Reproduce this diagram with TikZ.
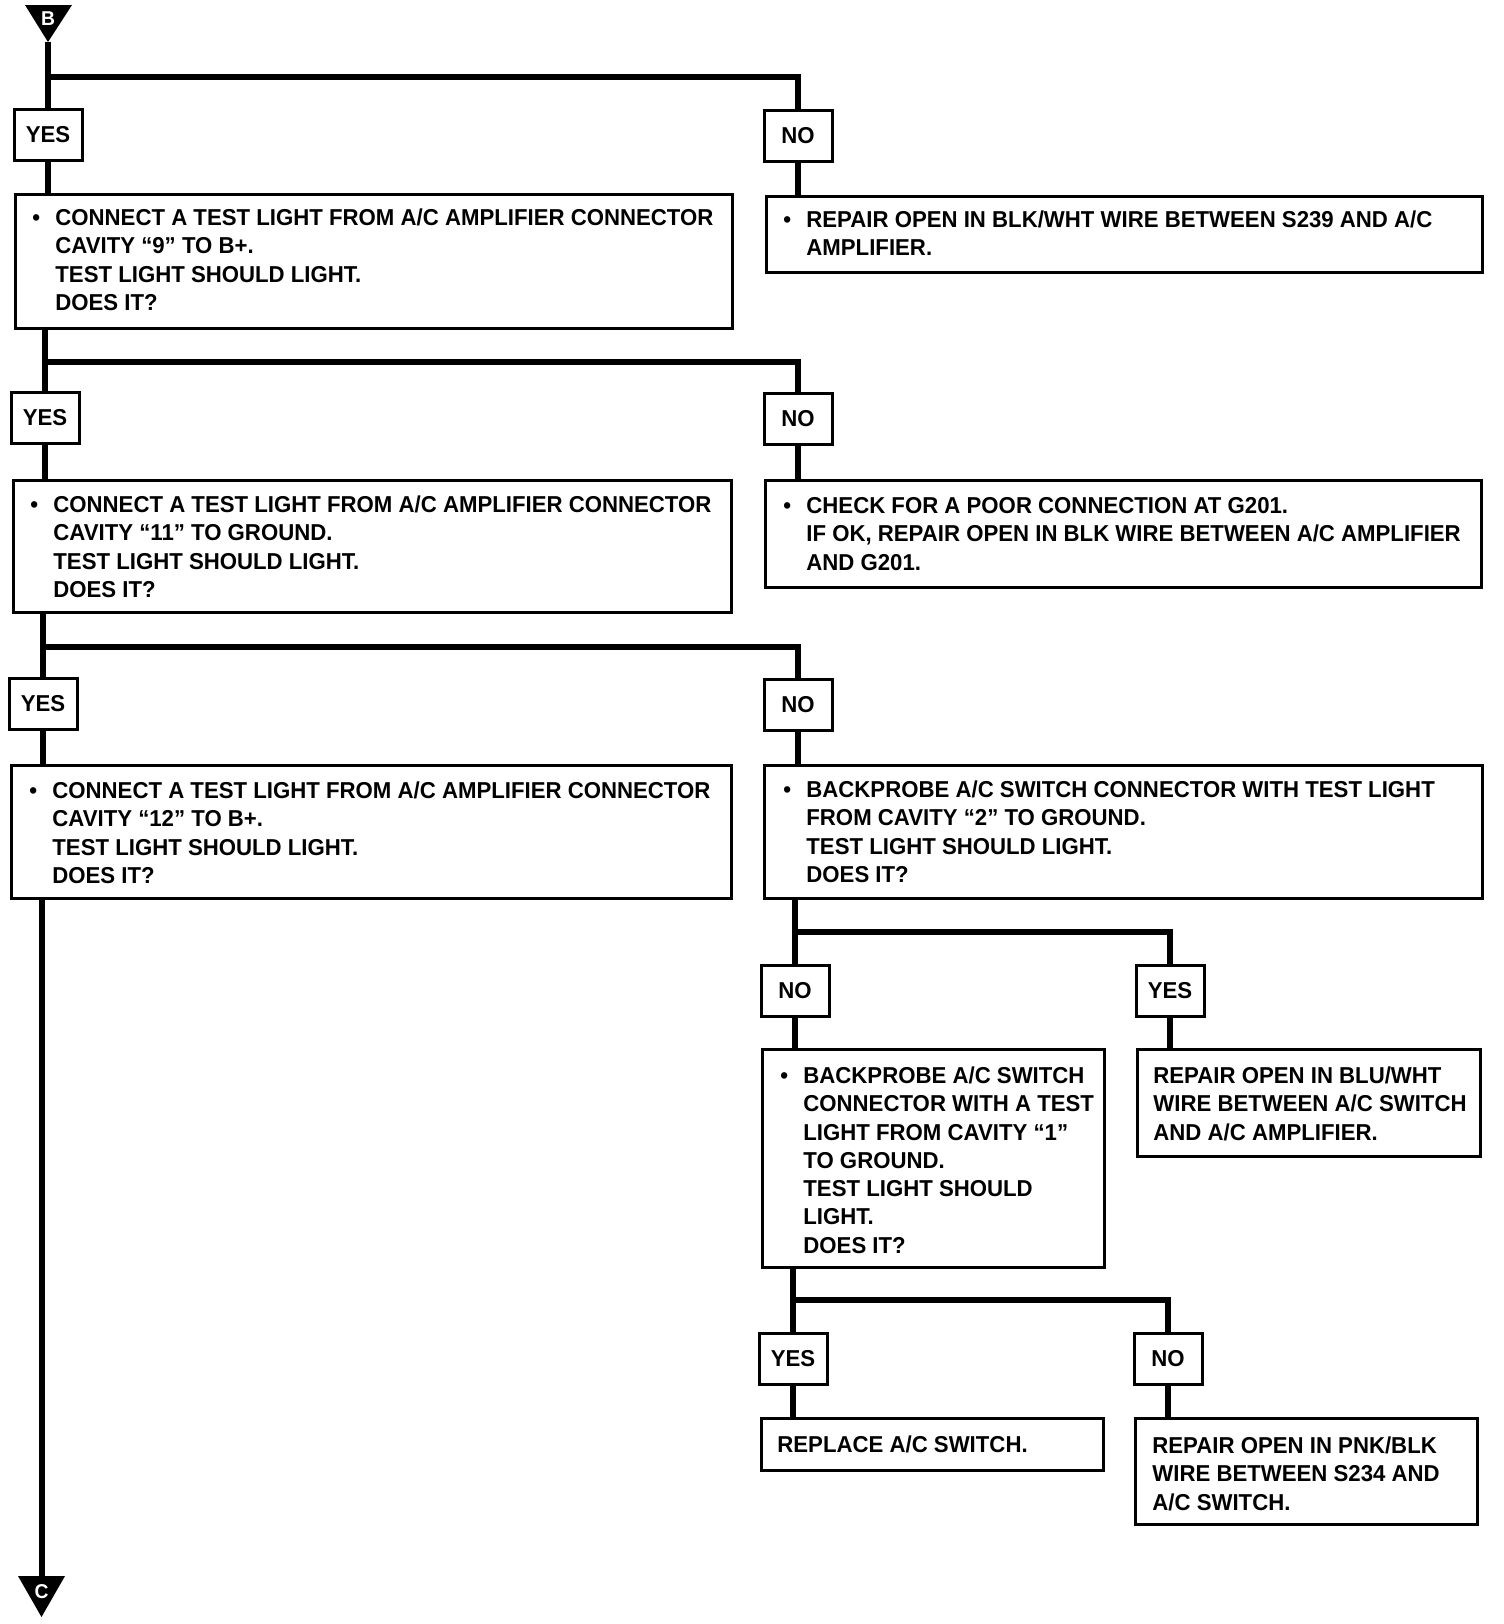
\documentclass[tikz,border=0pt]{standalone}
\usepackage{fontspec}
\setmainfont{Liberation Sans}[FakeStretch=0.965]
\newcommand{\dfont}{\bfseries\fontsize{11.5}{14.15}\selectfont}
\newcommand{\bl}{\makebox[11.5pt][l]{•}}
\begin{document}
\begin{tikzpicture}[x=0.5pt,y=-0.5pt]
\tikzset{
  conn/.style={line width=3.3pt, line cap=butt, line join=miter},
  box/.style={draw, line width=1.5pt, anchor=north west, inner sep=0pt, rectangle},
  yn/.style={draw, line width=1.5pt, inner sep=0pt, minimum width=34pt, minimum height=25.5pt, font=\dfont},
  txt/.style={anchor=north west, inner sep=0pt, font=\dfont},
  tri/.style={fill=black},
  trilab/.style={text=white, inner sep=0pt, font=\bfseries\fontsize{10}{12}\selectfont}
}
\useasboundingbox (0,0) rectangle (1504,1624);

% connector triangles
\fill[tri] (25,5) -- (72,5) -- (48,42) -- cycle;
\node[trilab] (Blab) at (48,19) {B};
\coordinate (Btip) at (48,42);
\fill[tri] (18,1576) -- (65,1576) -- (41.5,1617) -- cycle;
\node[trilab] (Clab) at (41.5,1592) {C};
\coordinate (Ctop) at (42,1576);

% YES / NO labels
\node[yn] (YES1) at (48,135) {YES};
\node[yn] (NO1)  at (798,136) {NO};
\node[yn] (YES2) at (45,418) {YES};
\node[yn] (NO2)  at (798,419) {NO};
\node[yn] (YES3) at (43,704) {YES};
\node[yn] (NO3)  at (798,704.5) {NO};
\node[yn] (NO4)  at (795,990.5) {NO};
\node[yn] (YES4) at (1170,990.5) {YES};
\node[yn] (YES5) at (793,1358.5) {YES};
\node[yn] (NO5)  at (1168,1359) {NO};

% boxes
\node[box, minimum width=358.5pt, minimum height=67pt]   (A1) at (14,193) {};
\node[box, minimum width=358pt,   minimum height=38pt]   (B1) at (765,195) {};
\node[box, minimum width=359pt,   minimum height=66pt]   (A2) at (12,479) {};
\node[box, minimum width=358pt,   minimum height=53.5pt] (B2) at (764,479) {};
\node[box, minimum width=360pt,   minimum height=66.5pt] (A3) at (10,764) {};
\node[box, minimum width=359pt,   minimum height=66.5pt] (B3) at (763,764) {};
\node[box, minimum width=171pt,   minimum height=109pt]  (C4) at (761,1048) {};
\node[box, minimum width=171.5pt, minimum height=53.5pt] (D4) at (1136,1048) {};
\node[box, minimum width=171pt,   minimum height=26pt]   (E5) at (760,1417) {};
\node[box, minimum width=171pt,   minimum height=53pt]   (F5) at (1134,1417) {};

% texts
\node[txt] (tA1) at (32,205.2) {\begin{tabular}{@{}l@{}l@{}}
\bl & CONNECT A TEST LIGHT FROM A/C AMPLIFIER CONNECTOR\\
 & CAVITY “9” TO B+.\\
 & TEST LIGHT SHOULD LIGHT.\\
 & DOES IT?\end{tabular}};
\node[txt] (tB1) at (783,207.2) {\begin{tabular}{@{}l@{}l@{}}
\bl & REPAIR OPEN IN BLK/WHT WIRE BETWEEN S239 AND A/C\\
 & AMPLIFIER.\end{tabular}};
\node[txt] (tA2) at (30,492.2) {\begin{tabular}{@{}l@{}l@{}}
\bl & CONNECT A TEST LIGHT FROM A/C AMPLIFIER CONNECTOR\\
 & CAVITY “11” TO GROUND.\\
 & TEST LIGHT SHOULD LIGHT.\\
 & DOES IT?\end{tabular}};
\node[txt] (tB2) at (783,493.2) {\begin{tabular}{@{}l@{}l@{}}
\bl & CHECK FOR A POOR CONNECTION AT G201.\\
 & IF OK, REPAIR OPEN IN BLK WIRE BETWEEN A/C AMPLIFIER\\
 & AND G201.\end{tabular}};
\node[txt] (tA3) at (29,778.2) {\begin{tabular}{@{}l@{}l@{}}
\bl & CONNECT A TEST LIGHT FROM A/C AMPLIFIER CONNECTOR\\
 & CAVITY “12” TO B+.\\
 & TEST LIGHT SHOULD LIGHT.\\
 & DOES IT?\end{tabular}};
\node[txt] (tB3) at (783,777.2) {\begin{tabular}{@{}l@{}l@{}}
\bl & BACKPROBE A/C SWITCH CONNECTOR WITH TEST LIGHT\\
 & FROM CAVITY “2” TO GROUND.\\
 & TEST LIGHT SHOULD LIGHT.\\
 & DOES IT?\end{tabular}};
\node[txt] (tC4) at (780,1063.2) {\begin{tabular}{@{}l@{}l@{}}
\bl & BACKPROBE A/C SWITCH\\
 & CONNECTOR WITH A TEST\\
 & LIGHT FROM CAVITY “1”\\
 & TO GROUND.\\
 & TEST LIGHT SHOULD\\
 & LIGHT.\\
 & DOES IT?\end{tabular}};
\node[txt] (tD4) at (1153,1063.2) {\begin{tabular}{@{}l@{}}
REPAIR OPEN IN BLU/WHT\\
WIRE BETWEEN A/C SWITCH\\
AND A/C AMPLIFIER.\end{tabular}};
\node[txt] (tE5) at (777,1432.2) {\begin{tabular}{@{}l@{}}
REPLACE A/C SWITCH.\end{tabular}};
\node[txt] (tF5) at (1152,1433.2) {\begin{tabular}{@{}l@{}}
REPAIR OPEN IN PNK/BLK\\
WIRE BETWEEN S234 AND\\
A/C SWITCH.\end{tabular}};

% connectors
\coordinate (j1) at (48,77);
\draw[conn] (Btip) -- (YES1.north);
\draw[conn] (j1) -| (NO1.north);
\draw[conn] (YES1.south) -- (YES1.south |- A1.north);
\draw[conn] (NO1.south) -- (NO1.south |- B1.north);

\coordinate (j2) at (45,362);
\draw[conn] (A1.south -| YES2.north) -- (YES2.north);
\draw[conn] (j2) -| (NO2.north);
\draw[conn] (YES2.south) -- (YES2.south |- A2.north);
\draw[conn] (NO2.south) -- (NO2.south |- B2.north);

\coordinate (j3) at (43,647);
\draw[conn] (A2.south -| YES3.north) -- (YES3.north);
\draw[conn] (j3) -| (NO3.north);
\draw[conn] (YES3.south) -- (YES3.south |- A3.north);
\draw[conn] (NO3.south) -- (NO3.south |- B3.north);

\draw[conn] (A3.south -| Ctop) -- (Ctop);

\coordinate (j4) at (795,932);
\draw[conn] (B3.south -| NO4.north) -- (NO4.north);
\draw[conn] (j4) -| (YES4.north);
\draw[conn] (NO4.south) -- (NO4.south |- C4.north);
\draw[conn] (YES4.south) -- (YES4.south |- D4.north);

\coordinate (j5) at (793,1300);
\draw[conn] (C4.south -| YES5.north) -- (YES5.north);
\draw[conn] (j5) -| (NO5.north);
\draw[conn] (YES5.south) -- (YES5.south |- E5.north);
\draw[conn] (NO5.south) -- (NO5.south |- F5.north);
\end{tikzpicture}
\end{document}
